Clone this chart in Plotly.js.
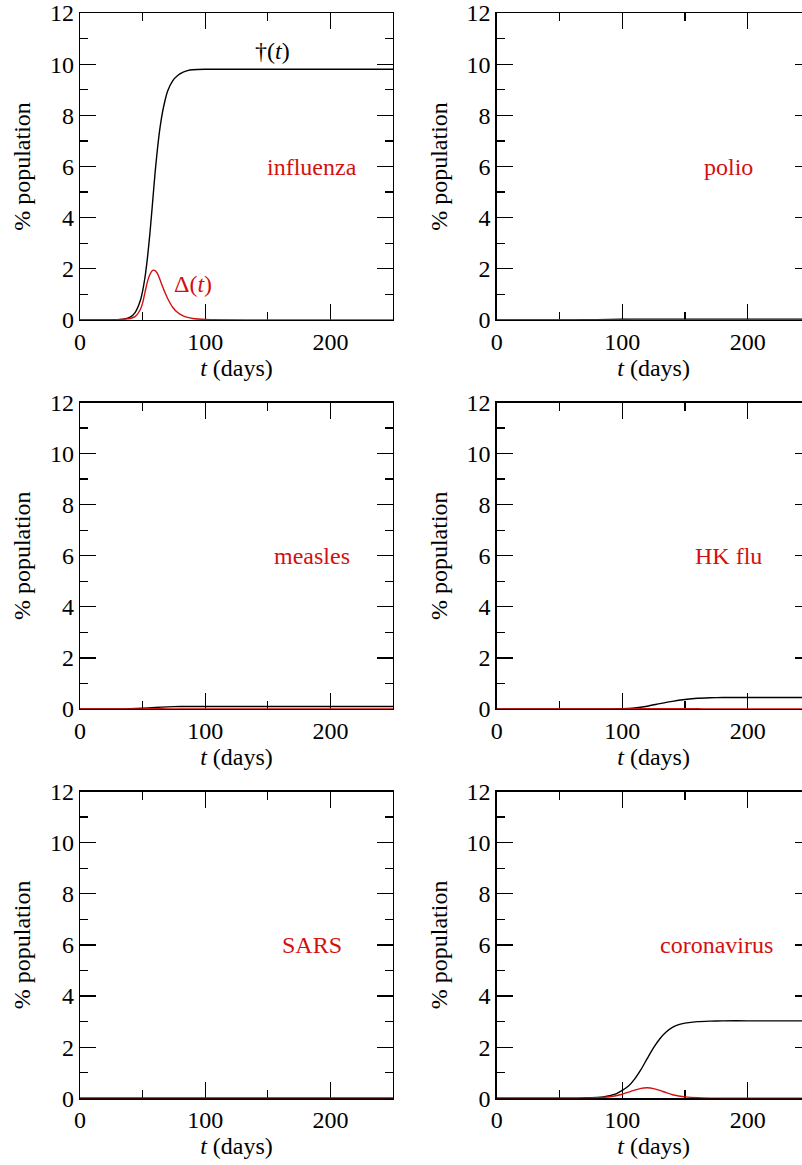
<!DOCTYPE html>
<html>
<head>
<meta charset="utf-8">
<script src="https://cdn.plot.ly/plotly-3.0.1.min.js"></script>
<style>
html,body{margin:0;padding:0;overflow:hidden;background:#fff;}
#chart{width:812px;height:1165px;}
#chart text{font-family:"Liberation Serif", serif !important;}
</style>
</head>
<body>
<div id="chart"></div>
<script>
// ---- data ----
const diseases = ["influenza", "polio", "measles", "HK flu", "SARS", "coronavirus"];

const influenzaT     = [0,20,30,35,40,44,48,50,52,54,56,58,60,62,64,66,68,70,74,78,82,86,90,100,150,200,250];
const influenzaDead  = [0,0.001,0.01,0.035,0.11,0.29,0.73,1.13,1.7,2.49,3.47,4.61,5.77,6.75,7.55,8.15,8.6,8.95,9.35,9.56,9.68,9.75,9.78,9.8,9.8,9.8,9.8];
const influenzaDelta = [0,0,0.01,0.03,0.06,0.13,0.39,0.66,1.1,1.52,1.8,1.94,1.93,1.8,1.56,1.3,1.06,0.84,0.5,0.29,0.17,0.1,0.06,0.02,0,0,0];

const polioT     = [0,60,80,100,120,150,250];
const polioDead  = [0,0.003,0.015,0.03,0.035,0.035,0.035];
const polioDelta = [0,0.001,0.002,0.002,0.001,0,0];

const measlesT     = [0,30,40,50,60,70,80,90,100,150,250];
const measlesDead  = [0,0.002,0.01,0.03,0.06,0.085,0.097,0.1,0.1,0.1,0.1];
const measlesDelta = [0,0.001,0.003,0.006,0.008,0.006,0.003,0.001,0,0,0];

const hkfluT     = [0,80,100,110,120,130,140,150,160,170,180,200,250];
const hkfluDead  = [0,0.002,0.01,0.04,0.11,0.21,0.3,0.37,0.42,0.44,0.45,0.45,0.45];
const hkfluDelta = [0,0,0.003,0.007,0.012,0.016,0.015,0.011,0.007,0.004,0.002,0,0];

const sarsT     = [0,100,250];
const sarsDead  = [0,0.003,0.004];
const sarsDelta = [0,0,0];

const coronaT     = [0,60,70,80,85,90,95,100,105,110,115,120,125,130,135,140,145,150,160,170,180,200,250];
const coronaDead  = [0,0.003,0.01,0.032,0.057,0.1,0.17,0.31,0.48,0.76,1.13,1.56,1.98,2.33,2.59,2.77,2.88,2.94,3.0,3.02,3.03,3.03,3.03];
const coronaDelta = [0,0,0.005,0.02,0.035,0.06,0.1,0.16,0.24,0.32,0.39,0.41,0.38,0.31,0.22,0.14,0.09,0.055,0.02,0.008,0.003,0,0];

const panelT     = [influenzaT, polioT, measlesT, hkfluT, sarsT, coronaT];
const panelDead  = [influenzaDead, polioDead, measlesDead, hkfluDead, sarsDead, coronaDead];
const panelDelta = [influenzaDelta, polioDelta, measlesDelta, hkfluDelta, sarsDelta, coronaDelta];
const labelX     = [185, 185, 185, 185, 185, 175];
const labelY     = [6, 6, 6, 6, 6, 6];

const xTickVals = [0, 100, 200];
const yTickVals = [0, 2, 4, 6, 8, 10, 12];

// ---- layout geometry ----
const W = 812, H = 1165;
const colDom = [[80/W, 393/W], [496.7/W, 810.5/W]];
const rowDom = [[1-320/H, 1-13/H], [1-709/H, 1-402.5/H], [1-1098.3/H, 1-791.5/H]];

const RED = "rgb(210,16,16)";
const FONT = "Liberation Serif";

const traces = [];
const layout = {
  width: W, height: H,
  margin: {l:0, r:0, t:0, b:0},
  paper_bgcolor: "#fff", plot_bgcolor: "#fff",
  showlegend: false,
  font: {family: FONT, size: 24, color: "#000"},
  annotations: []
};

for (let i = 0; i < 6; i++) {
  const n = i + 1;
  const xa = "x" + (n === 1 ? "" : n), ya = "y" + (n === 1 ? "" : n);
  const col = i % 2, row = Math.floor(i / 2);
  traces.push({x: panelT[i], y: panelDead[i], xaxis: xa, yaxis: ya, type: "scatter", mode: "lines",
               line: {color: "#000", width: 1.4, shape: "spline", smoothing: 0.6}, hoverinfo: "skip"});
  traces.push({x: panelT[i], y: panelDelta[i], xaxis: xa, yaxis: ya, type: "scatter", mode: "lines",
               line: {color: RED, width: 1.4, shape: "spline", smoothing: 0.6}, hoverinfo: "skip"});
  const axCommon = {showline: true, linecolor: "#000", linewidth: 1.3, mirror: "ticks",
                    ticks: "inside", tickcolor: "#000", tickwidth: 1.3, ticklen: 16,
                    showgrid: false, zeroline: false, layer: "below traces",
                    tickfont: {family: FONT, size: 24, color: "#000"}};
  layout["xaxis" + (n === 1 ? "" : n)] = Object.assign({}, axCommon, {
    domain: colDom[col], anchor: ya, range: [0, 250], tickmode: "array", tickvals: xTickVals,
    ticktext: xTickVals.map(String),
    minor: {tickvals: [50, 150, 250], ticks: "inside", ticklen: 8, tickcolor: "#000", tickwidth: 1.3, showgrid: false},
    title: {text: "<i>t</i> (days)", font: {family: FONT, size: 24, color: "#000"}, standoff: 2}
  });
  layout["yaxis" + (n === 1 ? "" : n)] = Object.assign({}, axCommon, {
    domain: rowDom[row], anchor: xa, range: [0, 12], tickmode: "array", tickvals: yTickVals,
    ticktext: yTickVals.map(String),
    minor: {tickvals: [1, 3, 5, 7, 9, 11], ticks: "inside", ticklen: 8, tickcolor: "#000", tickwidth: 1.3, showgrid: false},
    title: {text: "% population", font: {family: FONT, size: 24, color: "#000"}, standoff: 12}
  });
  layout.annotations.push({xref: xa, yref: ya, x: labelX[i], y: labelY[i], text: diseases[i],
    showarrow: false, font: {family: FONT, size: 24, color: RED}});
}
layout.annotations.push({xref: "x", yref: "y", x: 154, y: 10.5, text: "†(<i>t</i>)", showarrow: false,
  font: {family: FONT, size: 24, color: "#000"}});
layout.annotations.push({xref: "x", yref: "y", x: 90, y: 1.4, text: "Δ(<i>t</i>)", showarrow: false,
  font: {family: FONT, size: 24, color: RED}});

Plotly.newPlot("chart", traces, layout, {staticPlot: true, displayModeBar: false});
</script>
</body>
</html>
